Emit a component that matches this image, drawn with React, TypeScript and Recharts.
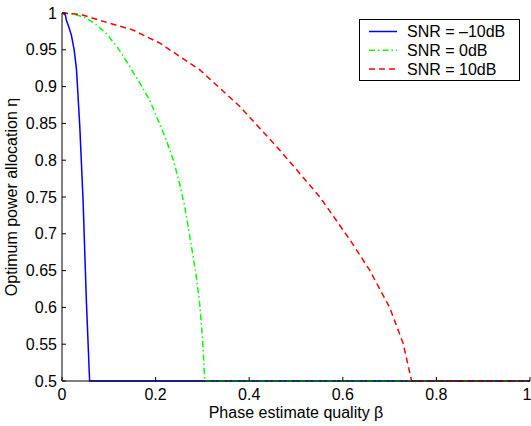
import { LineChart, Line, XAxis, YAxis, Legend } from 'recharts'

const xTicks = [0, 0.2, 0.4, 0.6, 0.8, 1]
const yTicks = [0.5, 0.55, 0.6, 0.65, 0.7, 0.75, 0.8, 0.85, 0.9, 0.95, 1]

// SNR = -10dB
const betaLow = [0, 0.004, 0.0073, 0.0094, 0.014, 0.02, 0.026, 0.031, 0.038, 0.045, 0.052, 0.059, 1]
const etaLow = [1, 0.999, 0.997, 0.99, 0.982, 0.97, 0.95, 0.923, 0.846, 0.746, 0.61, 0.5, 0.5]

// SNR = 0dB
const betaMid = [0, 0.02, 0.045, 0.07, 0.095, 0.12, 0.145, 0.166, 0.187, 0.205, 0.223, 0.238, 0.251, 0.262, 0.272, 0.28, 0.287, 0.294, 0.3, 0.305, 1]
const etaMid = [1, 0.999, 0.995, 0.986, 0.972, 0.952, 0.927, 0.905, 0.882, 0.855, 0.827, 0.8, 0.769, 0.738, 0.7, 0.67, 0.642, 0.606, 0.56, 0.5, 0.5]

// SNR = 10dB
const betaHigh = [0, 0.04, 0.081, 0.151, 0.209, 0.294, 0.38, 0.465, 0.551, 0.615, 0.657, 0.7, 0.729, 0.747, 1]
const etaHigh = [1, 0.998, 0.99, 0.977, 0.959, 0.923, 0.873, 0.814, 0.75, 0.692, 0.651, 0.6, 0.551, 0.5, 0.5]

const toRows = (b: number[], e: number[]) => b.map((v, i) => ({ b: v, eta: e[i] }))

const series = [
  { name: 'SNR = –10dB', color: '#0000ff', dash: undefined, data: toRows(betaLow, etaLow) },
  { name: 'SNR = 0dB', color: '#00ff00', dash: '6 3 1.5 3', data: toRows(betaMid, etaMid) },
  { name: 'SNR = 10dB', color: '#ff0000', dash: '6 4', data: toRows(betaHigh, etaHigh) },
]

const font = '"Liberation Sans", Arial, sans-serif'

function LegendBox() {
  return (
    <svg width={161} height={62} style={{ display: 'block' }}>
      <rect x={0.5} y={0.5} width={160} height={61} fill="#fff" stroke="#000" />
      {series.map((s, i) => (
        <g key={s.name}>
          <line
            x1={10}
            x2={38}
            y1={12.5 + i * 18.8}
            y2={12.5 + i * 18.8}
            stroke={s.color}
            strokeWidth={1.5}
            strokeDasharray={s.dash}
          />
          <text x={48} y={12.5 + i * 18.8} dy="0.36em" fontSize={16} fontFamily={font} fill="#000">
            {s.name}
          </text>
        </g>
      ))}
    </svg>
  )
}

function YLabel(props: any) {
  const vb = props.viewBox
  const cx = vb.x + 17
  const cy = vb.y + vb.height / 2
  return (
    <text
      x={cx}
      y={cy}
      transform={`rotate(-90 ${cx} ${cy})`}
      textAnchor="middle"
      fontSize={16}
      fontFamily={font}
      fill="#000"
    >
      Optimum power allocation η
    </text>
  )
}

export default function App() {
  return (
    <div style={{ position: 'absolute', left: 0, top: 0, background: '#fff' }}>
      <LineChart
        width={531}
        height={426}
        margin={{ top: 13, right: 1, bottom: 0, left: 0 }}
        style={{ fontFamily: font }}
      >
        <XAxis
          dataKey="b"
          type="number"
          domain={[0, 1]}
          ticks={xTicks}
          height={45}
          tickSize={-4}
          tickMargin={12}
          stroke="#000"
          tick={{ fill: '#000', fontSize: 16 }}
          allowDuplicatedCategory={false}
          label={{ value: 'Phase estimate quality β', position: 'insideBottom', offset: 8, fill: '#000', fontSize: 16 }}
        />
        <XAxis
          xAxisId="top"
          orientation="top"
          dataKey="b"
          type="number"
          domain={[0, 1]}
          ticks={xTicks}
          height={0}
          tickSize={-4}
          tick={false}
          stroke="#000"
        />
        <YAxis
          type="number"
          domain={[0.5, 1]}
          ticks={yTicks}
          width={62}
          tickSize={-4}
          tickMargin={9}
          stroke="#000"
          tick={{ fill: '#000', fontSize: 16 }}
          label={<YLabel />}
        />
        <YAxis
          yAxisId="right"
          orientation="right"
          type="number"
          domain={[0.5, 1]}
          ticks={yTicks}
          width={0}
          tickSize={-4}
          tick={false}
          stroke="#000"
        />
        <Legend
          layout="vertical"
          align="center"
          verticalAlign="middle"
          wrapperStyle={{ left: 359, top: 19, width: 161, height: 62 }}
          content={() => <LegendBox />}
        />
        {series.map((s) => (
          <Line
            key={s.name}
            data={s.data}
            dataKey="eta"
            name={s.name}
            type="linear"
            stroke={s.color}
            strokeWidth={1.5}
            strokeDasharray={s.dash}
            dot={false}
            activeDot={false}
            isAnimationActive={false}
          />
        ))}
      </LineChart>
    </div>
  )
}
